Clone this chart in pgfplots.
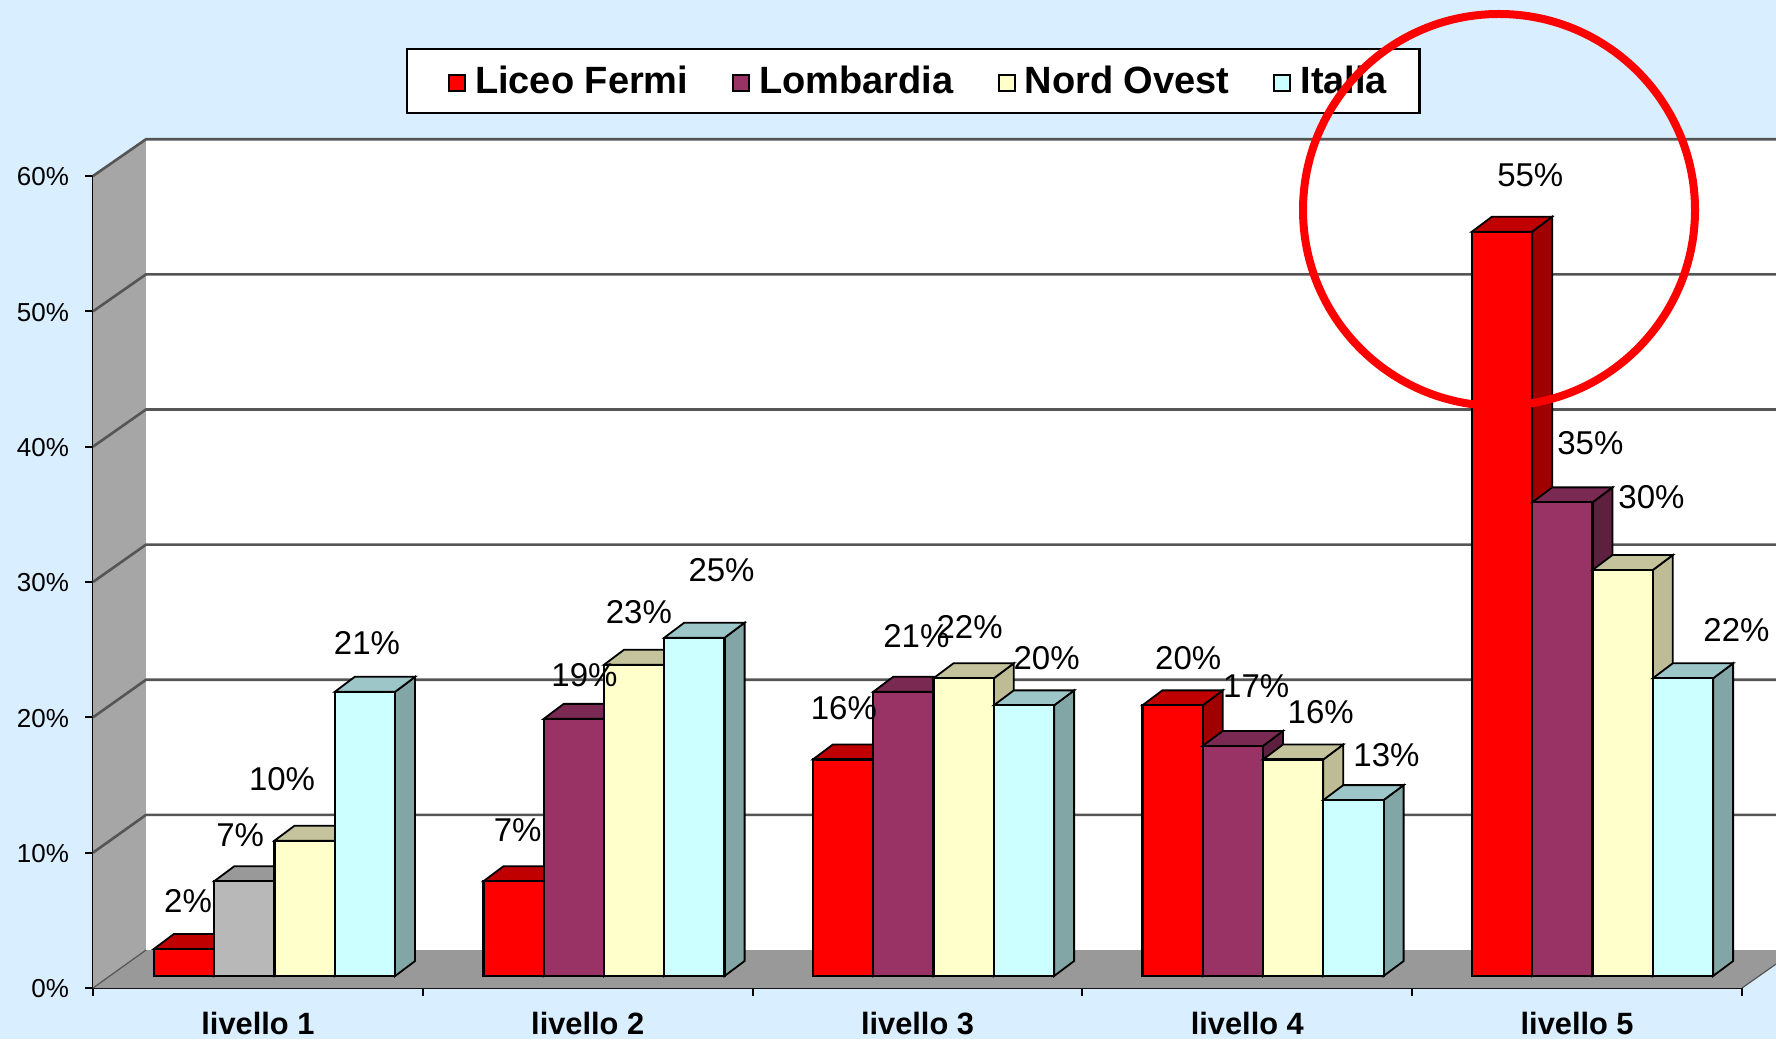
\documentclass[border=0pt]{standalone}
\usepackage{fontspec}
\setmainfont{Liberation Sans}
\usepackage{pgfplots}
\pgfplotsset{compat=1.18}
\definecolor{bgc}{HTML}{D9EEFF}
\definecolor{walc}{HTML}{A6A6A6}
\definecolor{florc}{HTML}{999999}
\definecolor{gridc}{HTML}{555555}
\definecolor{redf}{HTML}{FF0000}\definecolor{redt}{HTML}{C00000}\definecolor{reds}{HTML}{A00000}
\definecolor{purf}{HTML}{993366}\definecolor{purt}{HTML}{7A2952}\definecolor{purs}{HTML}{5F2040}
\definecolor{yelf}{HTML}{FFFFCC}\definecolor{yelt}{HTML}{C4C39B}\definecolor{yels}{HTML}{BDBC94}
\definecolor{cyaf}{HTML}{CCFFFF}\definecolor{cyat}{HTML}{9CC6C8}\definecolor{cyas}{HTML}{82A5A5}
\definecolor{gryf}{HTML}{B8B8B8}\definecolor{gryt}{HTML}{999999}
\pgfplotsset{sq/.style={legend image code/.code={\draw[draw=black,line width=1pt,fill=##1] (0pt,1.3pt) rectangle (8pt,9.3pt);}},
 sqfirst/.style={legend image code/.code={\draw[draw=white,line width=0pt] (-5pt,5pt) -- (-4.9pt,5pt);\draw[draw=black,line width=1pt,fill=##1] (0pt,1.3pt) rectangle (8pt,9.3pt);}}}
\newcommand\sidetop[5]{%
 \pgfmathsetmacro\xa{#1+#2-0.0915}%
 \pgfmathsetmacro\xb{\xa+0.183}%
 \pgfmathsetmacro\xc{\xa+0.0607}%
 \pgfmathsetmacro\xd{\xb+0.0607}%
 \pgfmathsetmacro\yt{#3+1.107}%
 \edef\tmp{\noexpand\addplot[forget plot,fill=#5,draw=black,line width=.9pt] coordinates {(\xb,0)(\xd,1.107)(\xd,\yt)(\xb,#3)} --cycle;}\tmp
 \edef\tmp{\noexpand\addplot[forget plot,fill=#4,draw=black,line width=.9pt] coordinates {(\xa,#3)(\xb,#3)(\xd,\yt)(\xc,\yt)} --cycle;}\tmp
}
\newcommand\lab[3]{%
 \pgfmathsetmacro\lx{(#1*1.1327-274.5)/329.5}%
 \pgfmathsetmacro\ly{(976-#2*1.1327)/13.55}%
 \edef\tmp{\noexpand\node[inner sep=0pt,font=\noexpand\fontsize{16.5}{16.5}\noexpand\selectfont] at (axis cs:\lx,\ly) {#3\noexpand\%};}\tmp
}
\begin{document}
\begin{tikzpicture}
\fill[bgc] (0,0) rectangle (888pt,519.5pt);
\useasboundingbox (0,0) rectangle (888pt,519.5pt);
\begin{axis}[
  at={(46.5pt,25.5pt)},anchor=south west,
  scale only axis,width=824.5pt,height=406pt,
  xmin=-0.5508,xmax=4.4537,ymin=-0.8856,ymax=59.1144,
  clip=false,
  axis x line*=bottom,axis y line*=left,
  axis line style={-,line width=1.1pt,black},
  tick align=outside,tick style={black,line width=1pt},
  major tick length=4pt,minor tick num=0,
  xtick={-0.5508,0.4501,1.451,2.4519,3.4528,4.4537},
  xticklabels={livello 1,livello 2,livello 3,livello 4,livello 5},
  x tick label as interval,
  xticklabel style={font=\bfseries\fontsize{15.4}{15.4}\selectfont,yshift=-4.8pt},
  ytick={-0.8856,9.1144,19.1144,29.1144,39.1144,49.1144,59.1144},
  yticklabels={0\%,10\%,20\%,30\%,40\%,50\%,60\%},
  yticklabel style={font=\fontsize{13}{13}\selectfont,xshift=-4.5pt,yshift=-0.5pt},
  legend columns=4,
  legend style={at={(axis description cs:0.4973,1.117)},anchor=center,
    draw=black,line width=1.1pt,fill=white,font=\bfseries\fontsize{19}{19}\selectfont,
    inner xsep=16.2pt,inner ysep=6.5pt,
    nodes={inner xsep=0pt,inner ysep=2pt,text depth=1.5pt,anchor=base west},
    /tikz/every odd column/.append style={column sep=4.5pt},
    /tikz/every even column/.append style={column sep=22pt}},
]
% back wall, side wall, floor
\addplot[forget plot,fill=white,draw=none] coordinates {(-0.39,1.92)(4.557,1.92)(4.557,61.83)(-0.39,61.83)} --cycle;
\addplot[forget plot,fill=walc,draw=none] coordinates {(-0.5508,-0.8856)(-0.39,1.92)(-0.39,61.83)(-0.5508,59.1144)} --cycle;
\addplot[forget plot,fill=florc,draw=none] coordinates {(-0.5508,-0.8856)(-0.39,1.92)(4.557,1.92)(4.557,0.886)(4.4537,-0.8856)} --cycle;
% grid
\addplot[forget plot,gridc,line width=1.3pt] coordinates {(-0.5508,9.1144)(-0.39,11.905)(4.557,11.905)};
\addplot[forget plot,gridc,line width=1.3pt] coordinates {(-0.5508,19.1144)(-0.39,21.89)(4.557,21.89)};
\addplot[forget plot,gridc,line width=1.3pt] coordinates {(-0.5508,29.1144)(-0.39,31.875)(4.557,31.875)};
\addplot[forget plot,gridc,line width=1.3pt] coordinates {(-0.5508,39.1144)(-0.39,41.86)(4.557,41.86)};
\addplot[forget plot,gridc,line width=1.3pt] coordinates {(-0.5508,49.1144)(-0.39,51.845)(4.557,51.845)};
\addplot[forget plot,gridc,line width=1.3pt] coordinates {(-0.5508,59.1144)(-0.39,61.83)(4.557,61.83)};
\addplot[forget plot,gridc,line width=.6pt] coordinates {(-0.5508,-0.8856)(-0.39,1.92)};
\addplot[forget plot,gridc,line width=.6pt] coordinates {(4.4537,-0.8856)(4.557,0.886)};
% Liceo Fermi
\sidetop{0}{-0.2745}{2}{redt}{reds}
\sidetop{1}{-0.2745}{7}{redt}{reds}
\sidetop{2}{-0.2745}{16}{redt}{reds}
\sidetop{3}{-0.2745}{20}{redt}{reds}
\sidetop{4}{-0.2745}{55}{redt}{reds}
\addplot[ybar,bar width=30.15pt,bar shift=-45.22pt,fill=redf,draw=black,line width=1.1pt,sqfirst] coordinates {(0,2)(1,7)(2,16)(3,20)(4,55)};
\addlegendentry{Liceo Fermi}
% Lombardia
\sidetop{0}{-0.0915}{7}{gryt}{purs}
\sidetop{1}{-0.0915}{19}{purt}{purs}
\sidetop{2}{-0.0915}{21}{purt}{purs}
\sidetop{3}{-0.0915}{17}{purt}{purs}
\sidetop{4}{-0.0915}{35}{purt}{purs}
\addplot[ybar,bar width=30.15pt,bar shift=-15.07pt,fill=purf,draw=black,line width=1.1pt,sq] coordinates {(0,7)(1,19)(2,21)(3,17)(4,35)};
\addlegendentry{Lombardia}
\addplot[forget plot,ybar,bar width=30.15pt,bar shift=-15.07pt,fill=gryf,draw=black,line width=1.1pt] coordinates {(0,7)};
% Nord Ovest
\sidetop{0}{0.0915}{10}{yelt}{yels}
\sidetop{1}{0.0915}{23}{yelt}{yels}
\sidetop{2}{0.0915}{22}{yelt}{yels}
\sidetop{3}{0.0915}{16}{yelt}{yels}
\sidetop{4}{0.0915}{30}{yelt}{yels}
\addplot[ybar,bar width=30.15pt,bar shift=15.07pt,fill=yelf,draw=black,line width=1.1pt,sq] coordinates {(0,10)(1,23)(2,22)(3,16)(4,30)};
\addlegendentry{Nord Ovest}
% Italia
\sidetop{0}{0.2745}{21}{cyat}{cyas}
\sidetop{1}{0.2745}{25}{cyat}{cyas}
\sidetop{2}{0.2745}{20}{cyat}{cyas}
\sidetop{3}{0.2745}{13}{cyat}{cyas}
\sidetop{4}{0.2745}{22}{cyat}{cyas}
\addplot[ybar,bar width=30.15pt,bar shift=45.22pt,fill=cyaf,draw=black,line width=1.1pt,sq] coordinates {(0,21)(1,25)(2,20)(3,13)(4,22)};
\addlegendentry{Italia}
% value labels
\lab{166}{795}{2}\lab{212}{737}{7}\lab{249}{688}{10}\lab{324}{567}{21}
\lab{457}{733}{7}\lab{516}{596}{19}\lab{564}{540}{23}\lab{637}{503}{25}
\lab{745}{625}{16}\lab{809}{561}{21}\lab{856}{553}{22}\lab{924}{581}{20}
\lab{1049}{581}{20}\lab{1109}{605}{17}\lab{1166}{628}{16}\lab{1224}{666}{13}
\lab{1351}{154}{55}\lab{1404}{391}{35}\lab{1458}{438}{30}\lab{1533}{556}{22}
\end{axis}
\draw[red,line width=4pt] (749.5pt,414.5pt) circle (98pt);
\end{tikzpicture}
\end{document}
